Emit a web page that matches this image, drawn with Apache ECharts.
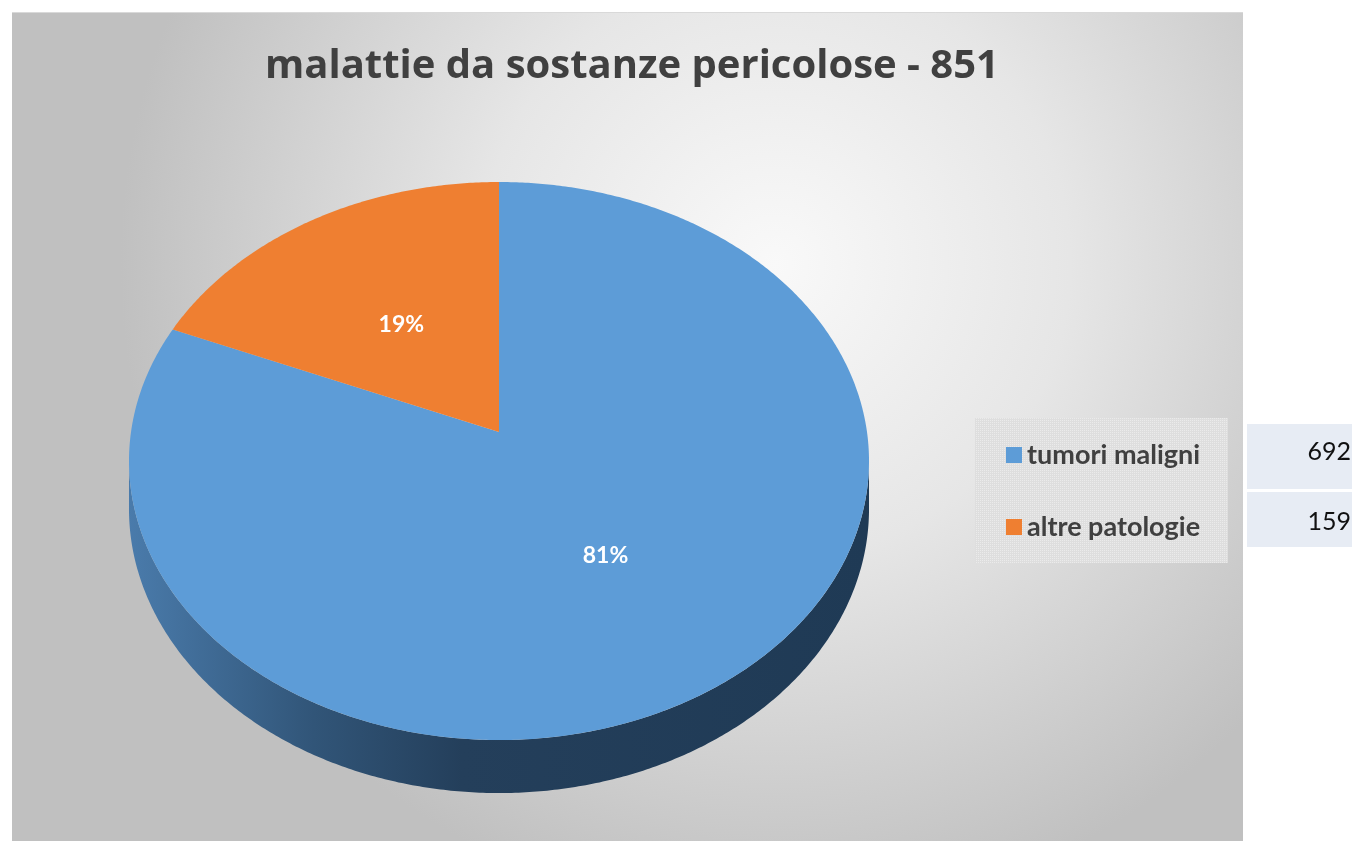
<!DOCTYPE html>
<html>
<head>
<meta charset="utf-8">
<script src="https://cdn.jsdelivr.net/npm/echarts@6/dist/echarts.min.js"></script>
<style>
  html, body { margin: 0; padding: 0; background: #fff; }
  #main { width: 1356px; height: 841px; }
</style>
</head>
<body>
<div id="main"></div>
<script>
// dati
var categories = ['tumori maligni', 'altre patologie'];
var values = [692, 159];
var colors = ['#5d9cd7', '#ef7f31'];
var titleText = 'malattie da sostanze pericolose - 851';

var total = values.reduce(function (a, b) { return a + b; }, 0);

// torta 3D in prospettiva
var cx = 499, cy = 432, RX = 368, RY = 276, K = 0.104, H = 47.5;
var DEG = Math.PI / 180;

function proj(phi, f) {
    var u = Math.cos(phi) * f, v = -Math.sin(phi) * f;
    var d = 1 - K * v;
    return [cx + RX * u / d, cy + RY * v / d];
}
function depth(phi) {
    var v = -Math.sin(phi);
    return H / (1 - K * v);
}
function arcPoints(from, to) {
    var pts = [], n = Math.max(2, Math.ceil(Math.abs(to - from) / (0.5 * DEG)));
    for (var i = 0; i <= n; i++) {
        pts.push(proj(from + (to - from) * i / n, 1));
    }
    return pts;
}

function makeRender(idx) {
    return function (params, api) {
        var val = api.value(0);
        var before = 0;
        for (var j = 0; j < idx; j++) before += values[j];
        var a0 = (90 - before / total * 360) * DEG;
        var a1 = a0 - val / total * 360 * DEG;
        var children = [];

        // parete laterale (solo parte frontale)
        var frontLo = -180 * DEG + Math.asin(K), frontHi = -Math.asin(K);
        for (var s = -1; s <= 1; s++) {
            var lo = Math.max(a1, frontLo + s * 2 * Math.PI);
            var hi = Math.min(a0, frontHi + s * 2 * Math.PI);
            if (hi > lo) {
                var top = arcPoints(lo, hi);
                var bottom = [];
                for (var k = top.length - 1; k >= 0; k--) {
                    var ph = lo + (hi - lo) * k / (top.length - 1);
                    bottom.push([top[k][0], top[k][1] + depth(ph)]);
                }
                children.push({
                    type: 'polygon',
                    z2: 1,
                    shape: { points: top.concat(bottom) },
                    style: {
                        fill: idx === 0 ? {
                            type: 'linear', x: 0, y: 0, x2: 1, y2: 0,
                            colorStops: [
                                { offset: 0, color: '#4a7bab' },
                                { offset: 0.25, color: '#315578' },
                                { offset: 0.45, color: '#243f5b' },
                                { offset: 1, color: '#1f3a55' }
                            ]
                        } : '#a4521d'
                    }
                });
            }
        }

        // faccia superiore
        var pts = [proj(0, 0)].concat(arcPoints(a0, a1));
        children.push({
            type: 'polygon',
            z2: 2,
            shape: { points: pts },
            style: { fill: api.visual('color') }
        });

        // etichetta percentuale
        var mid = (a0 + a1) / 2;
        var lp = proj(mid, 0.5);
        children.push({
            type: 'text',
            z2: 3,
            x: lp[0], y: lp[1] + 3,
            style: {
                text: Math.round(val / total * 100) + '%',
                fill: '#fff',
                font: 'bold 23px Lato, sans-serif',
                align: 'center',
                verticalAlign: 'middle'
            }
        });
        return { type: 'group', children: children };
    };
}

// motivo per lo sfondo della legenda
var pat = document.createElement('canvas');
pat.width = 4; pat.height = 4;
var pc = pat.getContext('2d');
pc.fillStyle = '#dedede';
pc.fillRect(0, 0, 4, 4);
pc.fillStyle = '#ebebeb';
pc.fillRect(0, 0, 1, 1); pc.fillRect(2, 2, 1, 1);
pc.fillRect(2, 0, 1, 1); pc.fillRect(0, 2, 1, 1);

var myChart = echarts.init(document.getElementById('main'));

var series = categories.map(function (name, i) {
    return {
        name: name,
        type: 'custom',
        coordinateSystem: 'none',
        renderItem: makeRender(i),
        data: [[values[i]]],
        z: 2
    };
});

var tableGraphics = [];
var rowTops = [424, 492], rowHeights = [65, 55], rowText = [452, 522];
values.forEach(function (v, i) {
    tableGraphics.push({
        type: 'rect',
        shape: { x: 1247, y: rowTops[i], width: 105, height: rowHeights[i] },
        style: { fill: '#e7ecf4' }
    });
    tableGraphics.push({
        type: 'text',
        x: 1351, y: rowText[i],
        style: {
            text: String(v),
            fill: '#111',
            font: '25px Lato, sans-serif',
            align: 'right',
            verticalAlign: 'middle'
        }
    });
});

option = {
    color: colors,
    animation: false,
    title: {
        text: titleText,
        left: 627,
        top: 42,
        textAlign: 'center',
        textStyle: {
            fontFamily: 'Open Sans',
            fontWeight: 'bold',
            fontSize: 40,
            color: '#404040'
        }
    },
    legend: {
        orient: 'vertical',
        left: 1001,
        top: 434,
        icon: 'rect',
        itemWidth: 16,
        itemHeight: 16,
        itemGap: 40,
        selectedMode: false,
        data: categories,
        textStyle: {
            fontFamily: 'Lato',
            fontWeight: 'bold',
            fontSize: 27,
            lineHeight: 32,
            color: '#404040'
        }
    },
    graphic: [
        {
            type: 'rect',
            z: -10,
            shape: { x: 12, y: 12, width: 1231, height: 840 },
            style: {
                fill: {
                    type: 'radial', x: 0.62, y: 0.3, r: 0.78,
                    colorStops: [
                        { offset: 0, color: '#f9f9f9' },
                        { offset: 0.45, color: '#e6e6e6' },
                        { offset: 1, color: '#c0c0c0' }
                    ]
                }
            }
        },
        {
            type: 'line',
            z: -9,
            shape: { x1: 12, y1: 12.5, x2: 1243, y2: 12.5 },
            style: { stroke: '#d9d9d9', lineWidth: 1 }
        },
        {
            type: 'rect',
            z: -5,
            shape: { x: 975, y: 418, width: 253, height: 145 },
            style: { fill: { image: pat, repeat: 'repeat' } }
        }
    ].concat(tableGraphics),
    series: series
};

myChart.setOption(option);
</script>
</body>
</html>
